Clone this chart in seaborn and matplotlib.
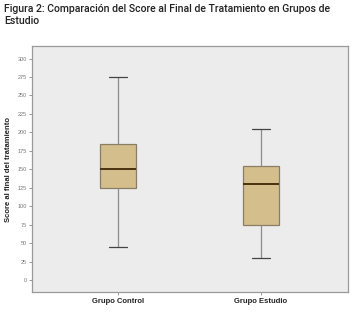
import numpy as np
import pandas as pd
import matplotlib
matplotlib.use("Agg")
import matplotlib.pyplot as plt
import seaborn as sns

# Five-number summaries (min, Q1, median, Q3, max)
groups = ["Grupo Control", "Grupo Estudio"]
control_vals = [45, 125, 150, 185, 275]
estudio_vals = [30, 75, 130, 155, 205]
y_ticks = list(range(0, 301, 25))

df = pd.DataFrame({
    "grupo": [groups[0]] * len(control_vals) + [groups[1]] * len(estudio_vals),
    "score": control_vals + estudio_vals,
})

sns.set_theme(style="white")
plt.rcParams['font.family'] = ['Liberation Sans', 'DejaVu Sans']

fig = plt.figure(figsize=(3.53, 3.12), dpi=100)
ax = fig.add_axes([32 / 353, 1 - 292 / 312, 316 / 353, 246 / 312])
ax.set_facecolor("#ECECEC")

sns.boxplot(data=df, x="grupo", y="score", ax=ax, whis=(0, 100), width=0.25,
            color="#D4BE8C", saturation=1, linewidth=0.9,
            boxprops=dict(edgecolor="#8a7d66"),
            whiskerprops=dict(color="#8c8c8c"),
            capprops=dict(color="#444444"),
            medianprops=dict(color="#4a3210", linewidth=1.4))

ax.set_xlim(-0.6, 1.61)
ax.set_ylim(-16, 317)
ax.set_yticks(y_ticks)
ax.set_yticklabels([str(t) for t in y_ticks], fontsize=4, color="#777777")
ax.set_xticks([0, 1])
ax.set_xticklabels(groups, fontsize=5.5, fontweight="bold", color="#222222")
ax.tick_params(axis="y", length=2.5, width=0.6, color="#888888", pad=1, left=True)
ax.tick_params(axis="x", length=2.5, width=0.6, color="#888888", pad=2, bottom=True)
ax.set_xlabel("")
ax.set_ylabel("Score al final del tratamiento", fontsize=5.5, fontweight="bold",
              color="#222222", labelpad=4)
for s in ax.spines.values():
    s.set_color("#9a9a9a")
    s.set_linewidth(0.9)

fig.text(4 / 353, 1 - 4 / 312,
         "Figura 2: Comparación del Score al Final de Tratamiento en Grupos de\nEstudio",
         fontsize=7.6, family=['Roboto', 'DejaVu Sans'], fontweight='medium',
         color="#222222", ha="left", va="top", linespacing=1.2)

fig.savefig("out.png", dpi=100)
